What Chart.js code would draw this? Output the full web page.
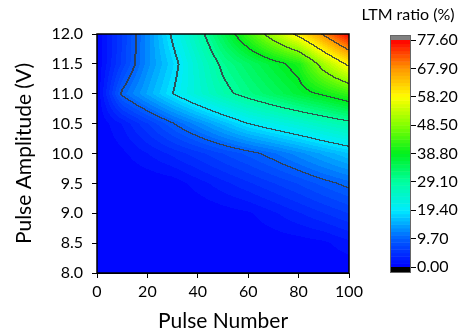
<!DOCTYPE html>
<html>
<head>
<meta charset="utf-8">
<script src="https://cdn.jsdelivr.net/npm/chart.js@4.4.0/dist/chart.umd.min.js"></script>
<style>
  html, body { margin: 0; padding: 0; background: #fff; }
  #wrap { position: relative; width: 463px; height: 334px; }
  #main { position: absolute; left: 0; top: 0; }
  #bar { position: absolute; left: 350px; top: 0; }
</style>
</head>
<body>
<div id="wrap">
  <canvas id="main" width="463" height="334"></canvas>
  <canvas id="bar" width="113" height="334"></canvas>
</div>
<script>
// grid of the measurement, x = pulse number, y = pulse amplitude (V)
const pulseNumbers = [0, 10, 20, 30, 40, 50, 60, 70, 80, 90, 100];
const amplitudes = [8, 8.5, 9, 9.5, 10, 10.5, 11, 11.5, 12];

// LTM ratio (%), one row per amplitude
const ltm8_0  = [0, 0,    0,    0,    0,    0,    0,    0,    0,    0,    0];
const ltm8_5  = [0, 0,    0,    0,    0,    0,    0,    0.3,  0.5,  0.9,  2.0];
const ltm9_0  = [0, 0,    0,    0,    0,    0.5,  1.0,  2.2,  3.5,  4.8,  6.1];
const ltm9_5  = [0, 0,    0.1,  0.4,  1.8,  3.2,  4.6,  6.0,  7.4,  9.0,  10.4];
const ltm10_0 = [0, 0.9,  2.4,  4.0,  5.6,  7.3,  8.9,  10.7, 12.8, 14.9, 16.9];
const ltm10_5 = [0, 2.5,  6.0,  9.5,  12.8, 16.1, 19.5, 21.7, 23.7, 25.9, 28.0];
const ltm11_0 = [0, 10.2, 14.8, 19.4, 23.6, 27.7, 31.0, 33.9, 37.0, 39.7, 42.9];
const ltm11_5 = [0, 6.4,  12.8, 17.9, 24.2, 30.1, 33.7, 37.2, 40.5, 51.2, 59.6];
const ltm12_0 = [0, 6.0,  12.7, 20.1, 27.0, 34.8, 43.2, 51.7, 60.0, 68.8, 78.0];
const ltmGrid = [ltm8_0, ltm8_5, ltm9_0, ltm9_5, ltm10_0, ltm10_5, ltm11_0, ltm11_5, ltm12_0];

// colour bar ticks / contour levels
const colorTicks = [0, 9.7, 19.4, 29.1, 38.8, 48.5, 58.2, 67.9, 77.6];
const levelStep = 9.7;
const bandsPerLevel = 8;

const FONT = "Lato, 'Open Sans', sans-serif";

// rainbow colour map like the original
const cmapStops = [
  [0,    [0, 0, 255]],
  [9.7,  [0, 95, 255]],
  [19.4, [0, 235, 255]],
  [29.1, [0, 255, 160]],
  [38.8, [0, 240, 30]],
  [48.5, [130, 255, 0]],
  [58.2, [255, 255, 0]],
  [67.9, [255, 150, 0]],
  [77.6, [255, 0, 0]]
];

function cmap(v) {
  if (v <= cmapStops[0][0]) return cmapStops[0][1];
  for (let i = 1; i < cmapStops.length; i++) {
    if (v <= cmapStops[i][0]) {
      const a = cmapStops[i - 1], b = cmapStops[i];
      const t = (v - a[0]) / (b[0] - a[0]);
      return [0, 1, 2].map(k => Math.round(a[1][k] + (b[1][k] - a[1][k]) * t));
    }
  }
  return cmapStops[cmapStops.length - 1][1];
}

const bandStep = levelStep / bandsPerLevel;
function bandColor(v) {
  const maxV = colorTicks[colorTicks.length - 1];
  let i = Math.floor(v / bandStep);
  if (i < 0) i = 0;
  const mid = Math.min((i + 0.5) * bandStep, maxV);
  return cmap(mid);
}

function findCell(arr, v) {
  for (let i = 0; i < arr.length - 1; i++) {
    if (v <= arr[i + 1]) return i;
  }
  return arr.length - 2;
}

function valueAt(x, y) {
  const i = findCell(pulseNumbers, x);
  const j = findCell(amplitudes, y);
  const tx = Math.max(0, Math.min(1, (x - pulseNumbers[i]) / (pulseNumbers[i + 1] - pulseNumbers[i])));
  const ty = Math.max(0, Math.min(1, (y - amplitudes[j]) / (amplitudes[j + 1] - amplitudes[j])));
  const a = ltmGrid[j][i], b = ltmGrid[j][i + 1];
  const c = ltmGrid[j + 1][i], d = ltmGrid[j + 1][i + 1];
  return (a * (1 - tx) + b * tx) * (1 - ty) + (c * (1 - tx) + d * tx) * ty;
}

// fills the plot area with the contour map, using the chart's scales
const contourPlugin = {
  id: 'contour',
  beforeDatasetsDraw(chart) {
    const { ctx, chartArea, scales } = chart;
    const left = Math.round(chartArea.left), top = Math.round(chartArea.top);
    const w = Math.round(chartArea.right) - left;
    const h = Math.round(chartArea.bottom) - top;
    const vals = new Float32Array(w * h);
    for (let py = 0; py < h; py++) {
      const yv = scales.y.getValueForPixel(top + py + 0.5);
      for (let px = 0; px < w; px++) {
        const xv = scales.x.getValueForPixel(left + px + 0.5);
        vals[py * w + px] = valueAt(xv, yv);
      }
    }
    const off = document.createElement('canvas');
    off.width = w; off.height = h;
    const octx = off.getContext('2d');
    const img = octx.createImageData(w, h);
    const lvl = v => Math.floor(v / levelStep);
    for (let py = 0; py < h; py++) {
      for (let px = 0; px < w; px++) {
        const v = vals[py * w + px];
        let col = bandColor(v);
        const l = lvl(v);
        let line = false;
        if (px + 1 < w && lvl(vals[py * w + px + 1]) !== l) line = true;
        if (py + 1 < h && lvl(vals[(py + 1) * w + px]) !== l) line = true;
        if (px > 0 && lvl(vals[py * w + px - 1]) !== l) line = true;
        if (line) col = [col[0] * 0.15 + 45, col[1] * 0.15 + 50, col[2] * 0.15 + 55];
        const k = (py * w + px) * 4;
        img.data[k] = col[0]; img.data[k + 1] = col[1]; img.data[k + 2] = col[2]; img.data[k + 3] = 255;
      }
    }
    octx.putImageData(img, 0, 0);
    ctx.drawImage(off, left, top);
  },
  afterDraw(chart) {
    const { ctx, chartArea } = chart;
    ctx.save();
    ctx.strokeStyle = '#000';
    ctx.lineWidth = 1.5;
    ctx.strokeRect(chartArea.left, chartArea.top, chartArea.right - chartArea.left, chartArea.bottom - chartArea.top);
    ctx.restore();
  }
};

new Chart(document.getElementById('main'), {
  type: 'scatter',
  data: { datasets: [{ data: [], pointRadius: 0 }] },
  options: {
    responsive: false,
    animation: false,
    layout: { padding: { left: 0, top: 34, right: 114, bottom: 0 } },
    plugins: { legend: { display: false }, tooltip: { enabled: false } },
    scales: {
      x: {
        type: 'linear', min: 0, max: 100,
        afterFit(scale) { scale.height = 61; },
        ticks: {
          stepSize: 10, maxRotation: 0, padding: 4, color: '#000',
          font: { family: FONT, size: 16 },
          callback: v => (v % 20 === 0 ? String(v) : '')
        },
        grid: { drawOnChartArea: false, drawTicks: true, tickLength: 5, color: '#000' },
        border: { display: true, color: '#000' },
        title: { display: true, text: 'Pulse Number', color: '#000', font: { family: FONT, size: 21 }, padding: { top: 0, bottom: 0 } }
      },
      y: {
        type: 'linear', min: 8, max: 12,
        afterFit(scale) { scale.width = 97; },
        ticks: {
          stepSize: 0.25, padding: 9, color: '#000',
          font: { family: FONT, size: 16 },
          callback: v => (Math.abs(v * 2 - Math.round(v * 2)) < 1e-6 ? v.toFixed(1) : '')
        },
        grid: { drawOnChartArea: false, drawTicks: true, tickLength: 5, color: '#000' },
        border: { display: true, color: '#000' },
        title: { display: true, text: 'Pulse Amplitude (V)', color: '#000', font: { family: FONT, size: 21 }, padding: { top: 12, bottom: 0 } }
      }
    }
  },
  plugins: [contourPlugin]
});

// colour bar
const barPlugin = {
  id: 'colorbar',
  beforeDatasetsDraw(chart) {
    const { ctx, chartArea, scales } = chart;
    const maxV = colorTicks[colorTicks.length - 1];
    const n = Math.round(maxV / bandStep);
    ctx.save();
    for (let i = 0; i < n; i++) {
      const y0 = scales.y.getPixelForValue(i * bandStep);
      const y1 = scales.y.getPixelForValue((i + 1) * bandStep);
      const c = bandColor((i + 0.5) * bandStep);
      ctx.fillStyle = `rgb(${c[0]},${c[1]},${c[2]})`;
      ctx.fillRect(chartArea.left, y1, chartArea.right - chartArea.left, y0 - y1 + 0.5);
    }
    ctx.fillStyle = '#808080';
    ctx.fillRect(chartArea.left, chartArea.top - 5, chartArea.right - chartArea.left, 5);
    ctx.fillStyle = '#000';
    ctx.fillRect(chartArea.left, chartArea.bottom, chartArea.right - chartArea.left, 6);
    ctx.strokeStyle = '#666';
    ctx.lineWidth = 1;
    ctx.strokeRect(chartArea.left + 0.5, chartArea.top - 5 + 0.5, chartArea.right - chartArea.left - 1, chartArea.bottom - chartArea.top + 10);
    ctx.fillStyle = '#000';
    ctx.font = `16px ${FONT}`;
    ctx.textAlign = 'center';
    ctx.textBaseline = 'middle';
    ctx.fillText('LTM ratio (%)', 58, 15);
    ctx.restore();
  }
};

new Chart(document.getElementById('bar'), {
  type: 'scatter',
  data: { datasets: [{ data: [], pointRadius: 0 }] },
  options: {
    responsive: false,
    animation: false,
    layout: { padding: { left: 40, top: 40, right: 0, bottom: 67 } },
    plugins: { legend: { display: false }, tooltip: { enabled: false } },
    scales: {
      x: { display: false, min: 0, max: 1 },
      y: {
        position: 'right', min: 0, max: colorTicks[colorTicks.length - 1],
        afterFit(scale) { scale.width = 52; },
        afterBuildTicks(scale) { scale.ticks = colorTicks.map(v => ({ value: v })); },
        ticks: { padding: 1, color: '#000', font: { family: FONT, size: 16 }, callback: v => v.toFixed(2) },
        grid: { drawOnChartArea: false, drawTicks: true, tickLength: 5, color: '#000' },
        border: { display: false }
      }
    }
  },
  plugins: [barPlugin]
});
</script>
</body>
</html>
